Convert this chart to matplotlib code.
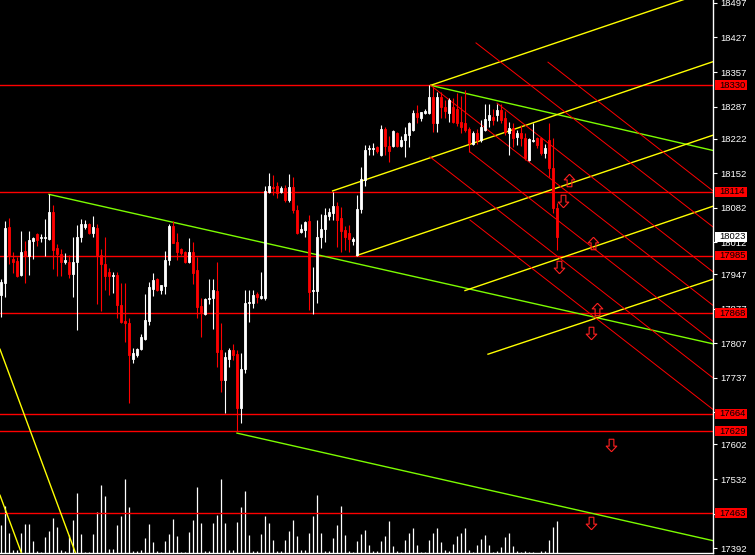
import matplotlib
matplotlib.use("Agg")
import matplotlib.pyplot as plt
import matplotlib.transforms as mtransforms
from matplotlib.patches import Rectangle
from matplotlib.path import Path

# ---------------- data ----------------
open_ = [17905, 17930, 18043, 17978, 17974, 17945, 17994, 17984, 18015, 18029,
         18020, 18021, 18018, 18073, 18000, 17989, 17972, 17972, 17948, 17971,
         18023, 18043, 18049, 18030, 18041, 17986, 17968, 17951, 17943, 17945,
         17885, 17852, 17848, 17776, 17783, 17795, 17815, 17852, 17918, 17937,
         17916, 17923, 17976, 18045, 18013, 17998, 17993, 17972, 17992, 17956,
         17883, 17866, 17897, 17898, 17913, 17793, 17733, 17776, 17793, 17785,
         17675, 17755, 17889, 17889, 17907, 17899, 17898, 18114, 18124, 18126,
         18114, 18121, 18098, 18124, 18077, 18033, 18037, 18055, 17914, 17914,
         18023, 18039, 18065, 18072, 18085, 18062, 18037, 18030, 18015, 17986,
         18079, 18138, 18200, 18201, 18204, 18189, 18241, 18207, 18207, 18234,
         18207, 18219, 18229, 18239, 18273, 18264, 18273, 18274, 18307, 18253,
         18307, 18287, 18273, 18287, 18283, 18256, 18253, 18241, 18212, 18234,
         18219, 18239, 18260, 18266, 18270, 18280, 18263, 18233, 18243, 18226,
         18233, 18223, 18179, 18217, 18223, 18223, 18192, 18219, 18162, 18081]
high = [17937, 18055, 18061, 17993, 17982, 18035, 18014, 18035, 18023, 18030,
        18029, 18059, 18109, 18087, 18008, 17998, 17991, 17986, 18023, 18047,
        18059, 18058, 18050, 18065, 18048, 17998, 18023, 17959, 17951, 17951,
        17929, 17929, 17858, 17797, 17797, 17826, 17907, 17931, 17949, 17940,
        17926, 17994, 18049, 18054, 18030, 18000, 17994, 18020, 18012, 17983,
        17898, 17898, 17937, 17937, 17972, 17848, 17790, 17797, 17806, 17793,
        17787, 17915, 17915, 17915, 17912, 17952, 18126, 18152, 18148, 18135,
        18125, 18128, 18150, 18145, 18087, 18049, 18054, 18067, 17962, 18057,
        18069, 18082, 18082, 18114, 18094, 18084, 18045, 18047, 18023, 18108,
        18164, 18210, 18210, 18214, 18207, 18250, 18246, 18227, 18239, 18236,
        18227, 18246, 18256, 18281, 18290, 18276, 18283, 18330, 18327, 18317,
        18316, 18300, 18304, 18304, 18314, 18308, 18321, 18246, 18237, 18241,
        18260, 18292, 18292, 18283, 18292, 18292, 18277, 18256, 18254, 18239,
        18250, 18233, 18223, 18253, 18226, 18226, 18212, 18253, 18223, 18091]
low = [17861, 17900, 17968, 17950, 17941, 17943, 17930, 17945, 17978, 18005,
       18013, 17984, 18016, 17958, 17944, 17944, 17968, 17940, 17901, 17834,
       18012, 18038, 18028, 18022, 17887, 17872, 17915, 17905, 17910, 17858,
       17848, 17810, 17686, 17768, 17780, 17793, 17814, 17844, 17903, 17914,
       17908, 17907, 17966, 18010, 17976, 17986, 17970, 17969, 17927, 17858,
       17820, 17865, 17887, 17837, 17760, 17709, 17665, 17760, 17773, 17629,
       17645, 17747, 17851, 17878, 17888, 17896, 17895, 18111, 18108, 18101,
       18111, 18094, 18094, 18072, 18029, 18031, 18023, 17874, 17866, 17889,
       18000, 18013, 18057, 18057, 18003, 17993, 17996, 17993, 18006, 17985,
       18072, 18126, 18189, 18189, 18192, 18187, 18189, 18175, 18205, 18205,
       18205, 18184, 18206, 18238, 18254, 18258, 18271, 18272, 18236, 18236,
       18264, 18264, 18256, 18253, 18248, 18233, 18236, 18195, 18209, 18212,
       18216, 18237, 18246, 18250, 18258, 18253, 18229, 18189, 18206, 18209,
       18207, 18179, 18177, 18215, 18203, 18189, 18183, 18145, 18071, 17996]
close = [17932, 18041, 17986, 17972, 17943, 17992, 17984, 18016, 18020, 18016,
         18022, 18023, 18073, 17996, 17989, 17972, 17976, 17947, 17972, 18023,
         18049, 18049, 18031, 18042, 17986, 17967, 17943, 17943, 17945, 17885,
         17851, 17848, 17783, 17788, 17795, 17820, 17854, 17922, 17935, 17916,
         17925, 17976, 18045, 18011, 17993, 17991, 17972, 17992, 17949, 17881,
         17871, 17896, 17899, 17915, 17790, 17733, 17780, 17793, 17783, 17676,
         17755, 17889, 17891, 17905, 17900, 17903, 18116, 18126, 18121, 18111,
         18122, 18098, 18124, 18077, 18031, 18038, 18053, 17912, 17916, 18023,
         18039, 18067, 18074, 18085, 18058, 18035, 18023, 18018, 18018, 18079,
         18141, 18199, 18202, 18203, 18197, 18241, 18207, 18197, 18237, 18207,
         18219, 18231, 18254, 18274, 18266, 18275, 18278, 18307, 18253, 18307,
         18287, 18277, 18300, 18256, 18253, 18246, 18239, 18214, 18233, 18219,
         18246, 18261, 18270, 18260, 18280, 18260, 18236, 18243, 18223, 18233,
         18223, 18182, 18221, 18219, 18209, 18193, 18202, 18162, 18081, 18023]
volume = [28, 47, 20, 3, 3, 20, 29, 29, 12, 2,
          1, 16, 22, 35, 26, 3, 2, 18, 33, 60,
          19, 1, 1, 19, 41, 68, 57, 4, 4, 28,
          37, 74, 46, 2, 2, 3, 15, 29, 11, 2,
          1, 12, 19, 34, 17, 1, 1, 21, 33, 66,
          30, 2, 2, 30, 38, 74, 30, 3, 3, 31,
          46, 62, 18, 2, 2, 19, 37, 30, 13, 2,
          2, 13, 22, 33, 17, 3, 3, 20, 37, 58,
          20, 2, 2, 15, 28, 47, 18, 2, 1, 12,
          19, 23, 8, 2, 2, 12, 17, 32, 7, 2,
          1, 13, 20, 25, 8, 1, 1, 13, 20, 25,
          11, 3, 2, 9, 17, 20, 25, 3, 1, 8,
          14, 18, 8, 1, 2, 6, 16, 20, 7, 2,
          1, 2, 1, 1, 0, 2, 2, 13, 26, 32]

price_ticks = [18497, 18427, 18357, 18287, 18222, 18152, 18082, 18012, 17947,
               17877, 17807, 17737, 17667, 17602, 17532, 17462, 17392]
hidden_ticks = [17462]  # tick label fully covered by a price label
red_levels = [18330, 18114, 17985, 17868, 17664, 17629, 17463]
last_price = 18023

# trend objects: (bar index, price) anchor pairs
green_lines = [((12, 18109), (178, 17806)),
               ((107.4, 18330), (178, 18198)),
               ((59, 17625), (178, 17407))]
yellow_lines = [((107.4, 18330), (178, 18524)),
                ((82.9, 18116), (178, 18378)),
                ((88.9, 17985), (178, 18229)),
                ((116, 17914), (178, 18085)),
                ((121.75, 17785), (178, 17937)),
                ((-0.25, 17795), (19, 17374)),
                ((-0.25, 17499), (5.1, 17382))]
red_diag_lines = [((118.75, 18416), (178, 18043)),
                  ((136.75, 18377), (178, 18116)),
                  ((107.4, 18330), (178, 17884)),
                  ((124, 18294), (178, 17952)),
                  ((117.25, 18195), (178, 17811)),
                  ((107.25, 18185), (178, 17737)),
                  ((117.25, 18057), (178, 17673))]
arrows_up = [(142.1, 18138), (148.1, 18011), (149.1, 17876)]
arrows_down = [(140.6, 18096), (139.6, 17962), (147.5, 17827),
               (152.5, 17601), (147.5, 17442)]

# ---------------- drawing ----------------
plt.rcParams['font.family'] = ['Liberation Sans', 'DejaVu Sans']
fig = plt.figure(figsize=(7.55, 5.55), dpi=100, facecolor='black')
ax = fig.add_axes([0, 2 / 555, 713 / 755, 553 / 555])
ax2 = ax.twinx()
ax.set_zorder(ax2.get_zorder() + 1)
ax.patch.set_visible(False)
ax2.patch.set_facecolor('black')
ax2.set_ylim(0, 553)
ax2.axis('off')

ax.set_xlim(-0.25, 178)
ax.set_ylim(17382, 18503)

n = len(close)
xs = list(range(n))

# volumes
ax2.vlines(xs, 0, volume, color='white', lw=0.9)

# candles
for i in xs:
    o, h, l, c = open_[i], high[i], low[i], close[i]
    col = 'white' if c >= o else '#ff0000'
    ax.vlines(i, l, h, color=col, lw=0.8, zorder=3)
    ax.bar(i, max(abs(c - o), 0.01), bottom=min(o, c), width=0.62,
           color=col, edgecolor=col, lw=0.6, zorder=4)

# horizontal levels
for lv in red_levels:
    ax.axhline(lv, color='#ff0000', lw=1.0, zorder=2)

for (p0, p1) in green_lines:
    ax.plot([p0[0], p1[0]], [p0[1], p1[1]], color='#7cfc00', lw=1.0, zorder=2)
for (p0, p1) in yellow_lines:
    ax.plot([p0[0], p1[0]], [p0[1], p1[1]], color='#ffff00', lw=1.0, zorder=2)
for (p0, p1) in red_diag_lines:
    ax.plot([p0[0], p1[0]], [p0[1], p1[1]], color='#ff0000', lw=0.7, zorder=2)

up_path = Path([(0, 1), (0.85, 0.1), (0.38, 0.1), (0.38, -1), (-0.38, -1),
                (-0.38, 0.1), (-0.85, 0.1), (0, 1)])
down_path = Path([(x, -y) for (x, y) in up_path.vertices])
for (xa, ya) in arrows_up:
    ax.plot(xa, ya, marker=up_path, ms=9, mfc='none', mec='#ff2020', mew=0.8,
            zorder=6, ls='none')
for (xa, ya) in arrows_down:
    ax.plot(xa, ya, marker=down_path, ms=9, mfc='none', mec='#ff2020', mew=0.8,
            zorder=6, ls='none')

# axes styling
for s in ['left', 'top']:
    ax.spines[s].set_visible(False)
for s in ['right', 'bottom']:
    ax.spines[s].set_color('white')
    ax.spines[s].set_linewidth(1.0)
ax.set_xticks([])
ax.yaxis.tick_right()
ax.set_yticks(price_ticks)
ax.set_yticklabels(['' if t in hidden_ticks else str(t) for t in price_ticks])
ax.tick_params(axis='y', colors='white', labelcolor='white', labelsize=6.8,
               length=3, width=0.8, pad=2.5, direction='out')

# price labels on the right scale
trans = mtransforms.blended_transform_factory(ax.transAxes, ax.transData)
for lv in red_levels:
    ax.add_patch(Rectangle((1.0035, lv - 10), 0.0435, 20, transform=trans,
                           facecolor='#ff0000', edgecolor='none',
                           clip_on=False, zorder=10))
    ax.text(1.0085, lv, str(lv), transform=trans, color='black',
            fontsize=6.8, va='center', ha='left', clip_on=False, zorder=11)
ax.add_patch(Rectangle((1.0035, last_price - 10), 0.0435, 20, transform=trans,
                       facecolor='white', edgecolor='none', clip_on=False,
                       zorder=10))
ax.text(1.0085, last_price, str(last_price), transform=trans, color='black',
        fontsize=6.8, va='center', ha='left', clip_on=False, zorder=11)

fig.savefig('out.png', dpi=100, facecolor='black')
